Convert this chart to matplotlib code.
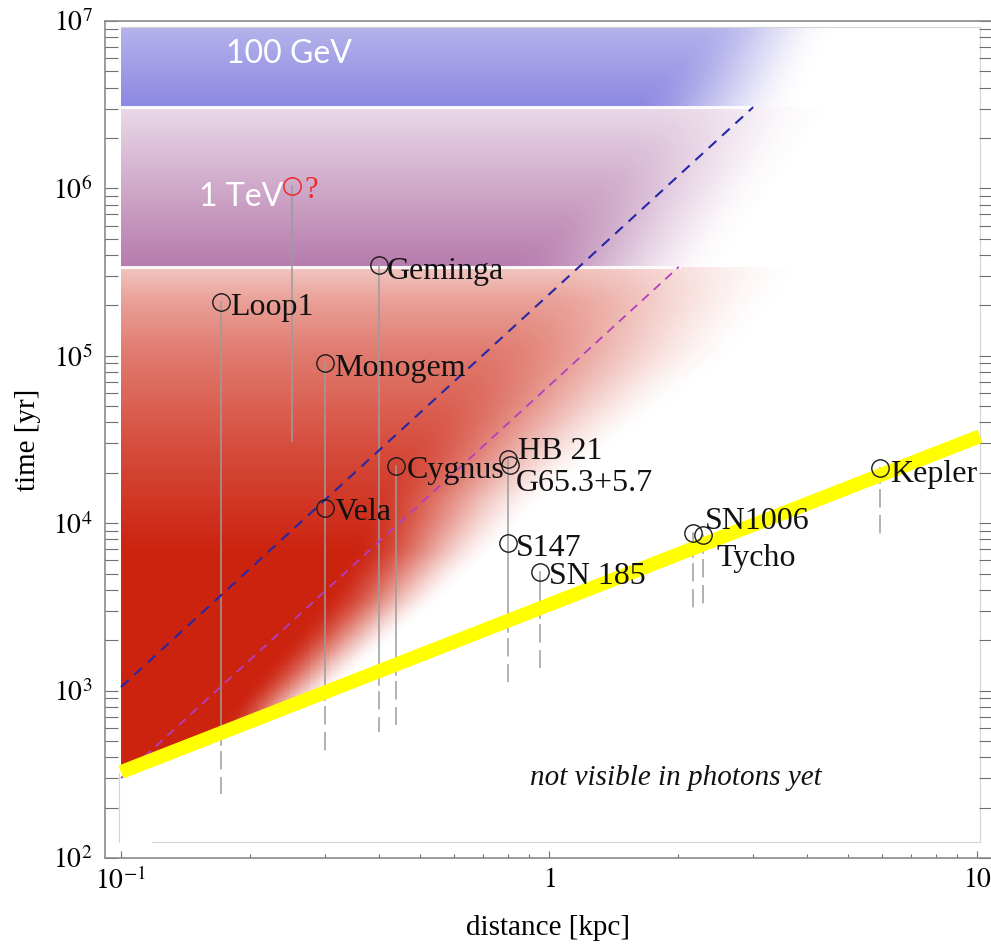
import numpy as np
import matplotlib.pyplot as plt
from matplotlib.ticker import FixedLocator, LogLocator, NullFormatter

plt.rcParams['font.family'] = 'Liberation Serif'
plt.rcParams['mathtext.fontset'] = 'stix'

# remnants: distance [kpc], age [yr]
names = ['Loop1', 'Monogem', 'Geminga', 'Vela', 'Cygnus', 'HB 21', 'G65.3+5.7',
         'S147', 'SN 185', 'SN1006', 'Tycho', 'Kepler']
dist = [0.171, 0.30, 0.40, 0.30, 0.44, 0.80, 0.81, 0.80, 0.953, 2.17, 2.29, 5.93]
age = [2.1e5, 9.1e4, 3.5e5, 1.23e4, 2.2e4, 2.42e4, 2.23e4, 7.6e3, 5.1e3, 8.7e3, 8.5e3, 2.14e4]
# label offsets in pixels (right, up)
lab_dx = [9, 9, 8, 9, 10, 10, 6, 8, 9, 12, 13, 10]
lab_dy = [-13, -13, -14, -12, -12, 0, -26, -13, -12, 4, -31, -14]

# unconfirmed source
q_dist, q_age = 0.251, 1.03e6

# age ranges drawn under the markers
bar_dist = [0.171, 0.251, 0.30, 0.40, 0.44, 0.80, 0.953, 2.17, 2.29, 5.93]
bar_top = [2.1e5, 1.03e6, 9.1e4, 3.5e5, 2.2e4, 2.42e4, 5.1e3, 8.7e3, 8.5e3, 2.14e4]
bar_solid_lo = [473, 3.1e4, 879, 1.08e3, 1.24e3, 2.24e3, 2.7e3, 6.3e3, 6.6e3, 1.75e4]
bar_dash_lo = [241, None, 424, 566, 622, 1.12e3, 1.37e3, 3.1e3, 3.2e3, 8.5e3]

# light travel time t = d/c
light_d = [0.1, 10.16]
light_t = [326, 3.31e4]

# diffusion fronts
front_blue_d = [0.1, 3.0]
front_blue_t = [1.05e3, 3.06e6]
front_mag_d = [0.1, 2.01]
front_mag_t = [3.0e2, 3.4e5]

# energy bands (age limits)
band_red_top = 3.4e5
band_pur_top = 3.08e6
band_blue_top = 9.2e6


def fade(lx, front, h):
    # smooth step from 1 (left of front-h) to 0 (right of front+h)
    u = np.clip((front + h - lx) / (2 * h), 0, 1)
    return u * u * (3 - 2 * u)


def band_mesh(ax, lt0, lt1, base, amp, front, half, below=None):
    lx_e = np.linspace(-1.0, 1.007, 601)
    lt_e = np.linspace(lt0, lt1, int((lt1 - lt0) * 110) + 2)
    lxc = 0.5 * (lx_e[1:] + lx_e[:-1])
    ltc = 0.5 * (lt_e[1:] + lt_e[:-1])
    LX, LT = np.meshgrid(lxc, ltc)
    a = amp(LT) * fade(LX, front(LT), half(LT))
    if below is not None:
        a = np.where(LT >= below(LX), a, 0.0)
    c = np.zeros(LX.shape + (4,))
    c[..., :3] = np.array(base) / 255.0
    c[..., 3] = np.clip(a, 0, 1)
    ax.pcolormesh(10 ** lx_e, 10 ** lt_e, c, shading='flat',
                  antialiased=False, edgecolors='none', zorder=0)


fig = plt.figure(figsize=(9.91, 9.46), dpi=100)
ax = fig.add_axes([105 / 991, 88 / 946, 887 / 991, 837 / 946])
ax.set_xscale('log')
ax.set_yscale('log')
ax.set_xlim(10 ** -1.0374, 10 ** 1.035)
ax.set_ylim(1e2, 1e7)

# red band: 1 TeV down to the light cone
lyl = np.log10(light_t[0]) + 1.0
red_lt = [2.5, 2.94, 3.24, 3.54, 3.84, 4.14, 4.5, 5.0, 5.532]
band_mesh(ax, np.log10(light_t[0]) - 0.05, np.log10(band_red_top), (203, 30, 10),
          lambda t: np.interp(t, [3.85, 4.14, 4.44, 4.74, 5.04, 5.33, 5.532],
                              [0.98, 0.89, 0.80, 0.69, 0.58, 0.42, 0.25]),
          lambda t: np.interp(t, red_lt, [-0.76, -0.63, -0.51, -0.39, -0.29, -0.21, -0.07, 0.14, 0.33]),
          lambda t: np.interp(t, red_lt, [0.08, 0.10, 0.12, 0.14, 0.17, 0.21, 0.25, 0.30, 0.28]),
          below=lambda x: lyl + x)
# purple band
band_mesh(ax, np.log10(band_red_top), np.log10(band_pur_top), (172, 105, 162),
          lambda t: np.interp(t, [5.532, 6.0, 6.488], [0.88, 0.58, 0.25]),
          lambda t: np.interp(t, [5.532, 6.488], [0.15, 0.47]),
          lambda t: np.interp(t, [5.532, 6.488], [0.25, 0.20]))
# blue band
band_mesh(ax, np.log10(band_pur_top), np.log10(band_blue_top), (140, 135, 225),
          lambda t: np.interp(t, [6.488, 6.964], [1.0, 0.64]),
          lambda t: np.interp(t, [6.488, 6.964], [0.38, 0.52]),
          lambda t: np.interp(t, [6.488, 6.964], [0.20, 0.15]))

# bright seams on top of the lower bands
ax.plot([0.1, front_mag_d[1]], [band_red_top] * 2, color='white', lw=2.2, alpha=0.9, zorder=1)
ax.plot([0.1, front_blue_d[1]], [band_pur_top] * 2, color='white', lw=2.2, alpha=0.9, zorder=1)

# plot-range frame
fr = '#d4d4d4'
ax.plot([0.118, 10.16], [125, 125], color=fr, lw=0.8, zorder=1)
ax.plot([0.1, 10.16], [band_blue_top] * 2, color=fr, lw=0.8, zorder=1)
ax.plot([10.16, 10.16], [125, band_blue_top], color=fr, lw=0.8, zorder=1)
ax.plot([0.099, 0.099], [125, 320], color=fr, lw=0.8, zorder=1)

# age ranges
for d, t0, t1, t2 in zip(bar_dist, bar_top, bar_solid_lo, bar_dash_lo):
    ax.plot([d, d], [t0, t1], color='#9c9c9c', lw=1.1, zorder=2)
    if t2 is not None:
        ax.plot([d, d], [t1, t2], color='#9c9c9c', lw=1.1, zorder=2,
                linestyle=(13, (12, 5)))

ax.plot(front_blue_d, front_blue_t, color='#2626a6', lw=1.5, linestyle=(0, (5, 3.7)), zorder=3)
ax.plot(front_mag_d, front_mag_t, color='#b23ec4', lw=1.3, linestyle=(0, (5, 3.7)), zorder=3)

ax.plot(light_d, light_t, color='#ffff00', lw=10, solid_capstyle='butt', zorder=4)

ax.plot(dist, age, 'o', ms=12.5, mfc='none', mec='#1a1a1a', mew=1.0, zorder=5)
ax.plot([q_dist], [q_age], 'o', ms=12.5, mfc='none', mec='#ee2a2a', mew=1.1, zorder=5)

for n, d, t, dx, dy in zip(names, dist, age, lab_dx, lab_dy):
    ax.annotate(n, (d, t), xytext=(dx, dy), textcoords='offset pixels',
                ha='left', va='baseline', fontsize=23, color='#111111', zorder=6)
ax.annotate('?', (q_dist, q_age), xytext=(12, -12), textcoords='offset pixels',
            ha='left', va='baseline', fontsize=22, color='#ee2a2a', zorder=6)

ax.text(0.176, 5.6e6, '100 GeV', family='Lato', fontsize=23, color='white',
        ha='left', va='baseline', zorder=6)
ax.text(0.152, 7.86e5, '1 TeV', family='Lato', fontsize=23, color='white',
        ha='left', va='baseline', zorder=6)
ax.text(1.98, 273, 'not visible in photons yet', style='italic', fontsize=21,
        ha='center', va='baseline', color='#111111', zorder=6)

# axes
ax.xaxis.set_major_locator(FixedLocator([0.1, 1, 10]))
ax.set_xticklabels([r'$10^{-1}$', r'$1$', r'$10$'])
ax.xaxis.set_minor_locator(LogLocator(base=10, subs=np.arange(2, 10)))
ax.xaxis.set_minor_formatter(NullFormatter())
ax.yaxis.set_major_locator(FixedLocator([1e2, 1e3, 1e4, 1e5, 1e6, 1e7]))
ax.set_yticklabels([r'$10^{%d}$' % k for k in range(2, 8)])
ax.yaxis.set_minor_locator(LogLocator(base=10, subs=np.arange(2, 10)))
ax.yaxis.set_minor_formatter(NullFormatter())

ax.tick_params(axis='y', which='both', direction='in', length=9.5, width=0.8,
               color='#6e6e6e', left=True, right=True, labelsize=20, pad=9)
ax.tick_params(axis='x', which='major', direction='in', length=5, width=0.8,
               color='#6e6e6e', labelsize=20, pad=7)
ax.tick_params(axis='x', which='minor', direction='in', length=3, width=0.8, color='#6e6e6e')

for s in ['left', 'bottom', 'top', 'right']:
    ax.spines[s].set_color('#8a8a8a')
    ax.spines[s].set_linewidth(1.2)

ax.set_xlabel('distance [kpc]', fontsize=21, labelpad=14)
ax.set_ylabel('time [yr]', fontsize=21, labelpad=9)

fig.savefig('out.png', dpi=100)
